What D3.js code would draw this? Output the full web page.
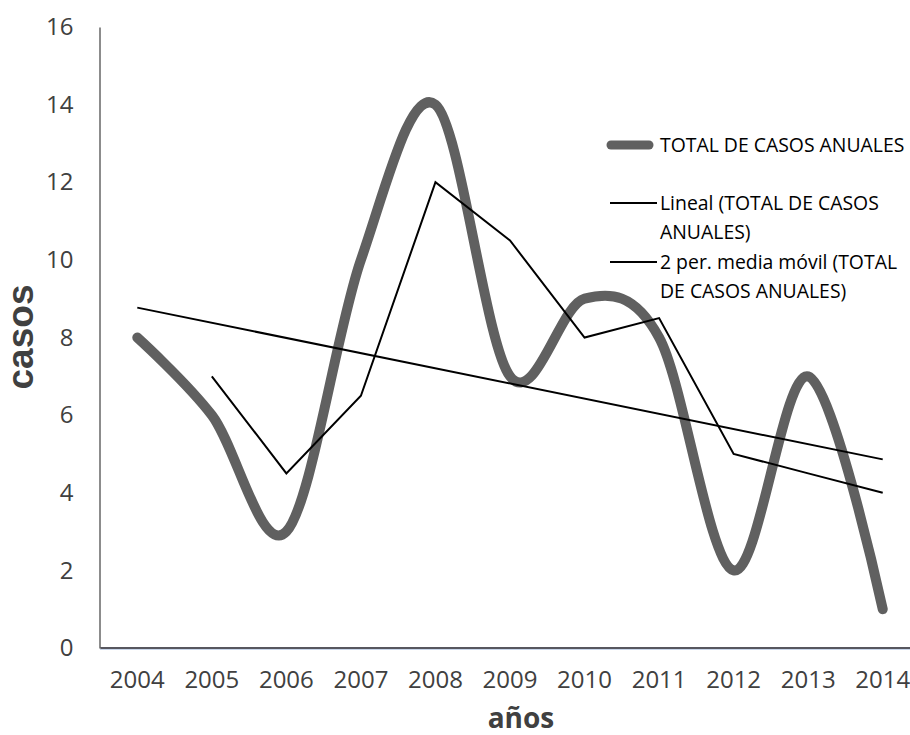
<!DOCTYPE html>
<html>
<head>
<meta charset="utf-8">
<script src="https://cdn.jsdelivr.net/npm/d3@7"></script>
<style>
  html, body { margin: 0; padding: 0; background: #fff; }
  svg { display: block; }
</style>
</head>
<body>
<svg id="chart" width="910" height="735"></svg>
<script>
// Casos anuales 2004–2014
const years = ["2004","2005","2006","2007","2008","2009","2010","2011","2012","2013","2014"];
const totalCases = [8, 6, 3, 10, 14, 7, 9, 8, 2, 7, 1];
// 2-period moving average, first value at 2005
const movingAvgYears = ["2005","2006","2007","2008","2009","2010","2011","2012","2013","2014"];
const movingAvg = [7, 4.5, 6.5, 12, 10.5, 8, 8.5, 5, 4.5, 4];
// linear trend end points
const trendYears = ["2004", "2014"];
const trendValues = [8.77, 4.86];
const yTicks = [0, 2, 4, 6, 8, 10, 12, 14, 16];
const legendLabels = [
  ["TOTAL DE CASOS ANUALES"],
  ["Lineal (TOTAL DE CASOS", "ANUALES)"],
  ["2 per. media móvil (TOTAL", "DE CASOS ANUALES)"]
];

const svg = d3.select("#chart");
const font = "'Open Sans', sans-serif";
const textColor = "#404040";

const x = d3.scaleBand().domain(years).range([100, 920]).paddingInner(0).paddingOuter(0);
const cx = d => x(d) + x.bandwidth() / 2;
const y = d3.scaleLinear().domain([0, 16]).range([648, 27]);

// Y axis
const yAxis = svg.append("g")
  .attr("transform", "translate(99.5,0)")
  .call(d3.axisLeft(y).tickValues(yTicks).tickSize(0).tickPadding(26));
yAxis.select(".domain").attr("stroke", "#8c8c8c").attr("stroke-width", 2);
yAxis.selectAll("text")
  .attr("font-family", font).attr("font-size", 24).attr("fill", textColor);

// X axis
const xAxis = svg.append("g")
  .attr("transform", "translate(0,647.5)")
  .call(d3.axisBottom(x).tickSize(0).tickPadding(23));
xAxis.select(".domain").attr("stroke", "#1f1f2a").attr("stroke-width", 1.6);
xAxis.selectAll("text")
  .attr("font-family", font).attr("font-size", 24).attr("fill", textColor);
svg.append("line")
  .attr("x1", 100).attr("x2", 920).attr("y1", 649.5).attr("y2", 649.5)
  .attr("stroke", "#c9d6ea").attr("stroke-width", 1);

// Axis titles
svg.append("text")
  .attr("transform", "translate(33,337) rotate(-90)")
  .attr("text-anchor", "middle")
  .attr("font-family", "'Liberation Sans', Arial, sans-serif")
  .attr("font-weight", "bold").attr("font-size", 37)
  .attr("fill", "#404040")
  .text("casos");
svg.append("text")
  .attr("x", 521).attr("y", 728)
  .attr("text-anchor", "middle")
  .attr("font-family", font)
  .attr("font-weight", "bold").attr("font-size", 28)
  .attr("fill", "#404040")
  .text("años");

// Total cases, smoothed
const smooth = d3.line()
  .x((d, i) => cx(years[i]))
  .y(d => y(d))
  .curve(d3.curveCatmullRom.alpha(0));
svg.append("path")
  .datum(totalCases)
  .attr("d", smooth)
  .attr("fill", "none")
  .attr("stroke", "#606060")
  .attr("stroke-width", 10)
  .attr("stroke-linecap", "round")
  .attr("stroke-linejoin", "round");

// Linear trend
const straight = (ys) => d3.line().x((d, i) => cx(ys[i])).y(d => y(d));
svg.append("path")
  .datum(trendValues)
  .attr("d", straight(trendYears))
  .attr("fill", "none").attr("stroke", "#000").attr("stroke-width", 2);

// Moving average
svg.append("path")
  .datum(movingAvg)
  .attr("d", straight(movingAvgYears))
  .attr("fill", "none").attr("stroke", "#000").attr("stroke-width", 2)
  .attr("stroke-linejoin", "miter");

// Legend
const legendRows = [145, 203, 262];
const legend = svg.append("g");
legendRows.forEach((ly, i) => {
  if (i === 0) {
    legend.append("line")
      .attr("x1", 611).attr("x2", 649).attr("y1", ly).attr("y2", ly)
      .attr("stroke", "#606060").attr("stroke-width", 9).attr("stroke-linecap", "round");
  } else {
    legend.append("line")
      .attr("x1", 610).attr("x2", 657).attr("y1", ly).attr("y2", ly)
      .attr("stroke", "#000").attr("stroke-width", 2);
  }
  legendLabels[i].forEach((t, j) => {
    legend.append("text")
      .attr("x", 660).attr("y", ly + 7 + j * 28.5)
      .attr("font-family", font).attr("font-size", 19.4)
      .attr("fill", "#000")
      .text(t);
  });
});
</script>
</body>
</html>
